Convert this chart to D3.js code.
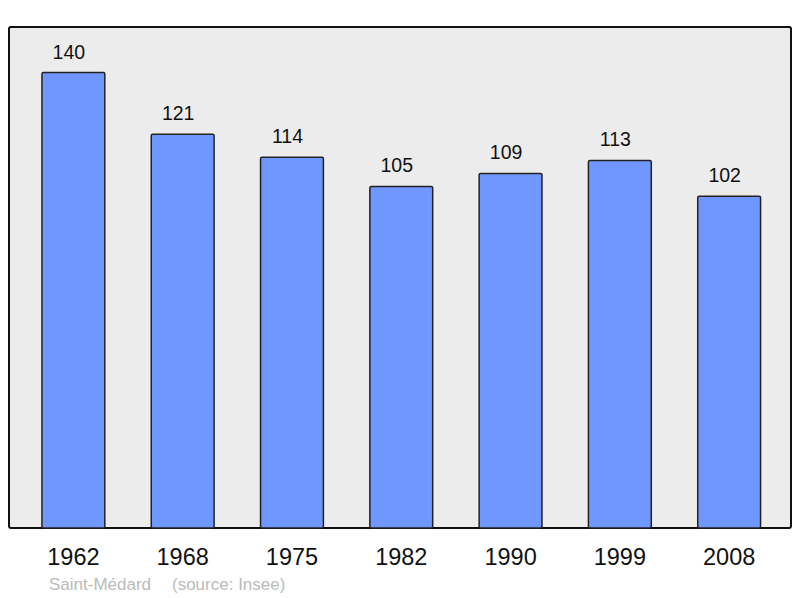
<!DOCTYPE html>
<html>
<head>
<meta charset="utf-8">
<script src="https://cdn.jsdelivr.net/npm/d3@7"></script>
<style>
  html, body { margin: 0; padding: 0; background: #fff; }
  svg { display: block; font-family: "Liberation Sans", Arial, sans-serif; }
</style>
</head>
<body>
<div id="wrapper"></div>
<script>
const years = ["1962", "1968", "1975", "1982", "1990", "1999", "2008"];
const population = [140, 121, 114, 105, 109, 113, 102];
const town = "Saint-Médard";
const source = "(source: Insee)";

function buildChart() {
  const dimensions = { width: 800, height: 598 };
  const panel = { left: 9, top: 27, right: 791, bottom: 528 };

  const svg = d3.select("#wrapper").append("svg")
    .attr("width", dimensions.width)
    .attr("height", dimensions.height);

  // grey plot frame
  svg.append("rect")
    .attr("x", panel.left)
    .attr("y", panel.top)
    .attr("width", panel.right - panel.left)
    .attr("height", panel.bottom - panel.top)
    .attr("rx", 2)
    .attr("fill", "#ececec")
    .attr("stroke", "#111")
    .attr("stroke-width", 2);

  const x = d3.scaleBand()
    .domain(years)
    .range([panel.left, panel.right])
    .paddingInner(0.425)
    .paddingOuter(0.29)
    .align(0.52);

  const y = d3.scaleLinear()
    .domain([0, 154])
    .range([panel.bottom, panel.top]);

  const bars = svg.append("g");

  bars.selectAll("rect")
    .data(population)
    .enter()
    .append("rect")
    .attr("x", (d, i) => x(years[i]))
    .attr("y", d => y(d))
    .attr("width", x.bandwidth())
    .attr("height", d => y(0) - y(d))
    .attr("rx", 1.5)
    .attr("fill", "#7096ff")
    .attr("stroke", "#222")
    .attr("stroke-width", 1.5);

  // value labels above bars (sit a little left of centre in the original)
  bars.selectAll("text")
    .data(population)
    .enter()
    .append("text")
    .attr("x", (d, i) => x(years[i]) + x.bandwidth() / 2 - 4.5)
    .attr("y", d => y(d) - 14)
    .attr("text-anchor", "middle")
    .attr("font-size", 19.5)
    .attr("fill", "#111")
    .text(d => d);

  // year labels
  const xAxis = d3.axisBottom(x).tickSize(0).tickPadding(0);
  const axisG = svg.append("g")
    .attr("transform", `translate(0, ${panel.bottom})`)
    .call(xAxis);
  axisG.select(".domain").remove();
  axisG.selectAll("text")
    .attr("dy", null)
    .attr("y", 37)
    .attr("font-size", 23.5)
    .attr("font-family", "Liberation Sans, Arial, sans-serif")
    .attr("fill", "#111");

  // footer
  svg.append("text")
    .attr("x", 49)
    .attr("y", 590)
    .attr("font-size", 17)
    .attr("fill", "#bbb")
    .text(town);

  svg.append("text")
    .attr("x", 172)
    .attr("y", 590)
    .attr("font-size", 17)
    .attr("fill", "#bbb")
    .text(source);
}

buildChart();
</script>
</body>
</html>
